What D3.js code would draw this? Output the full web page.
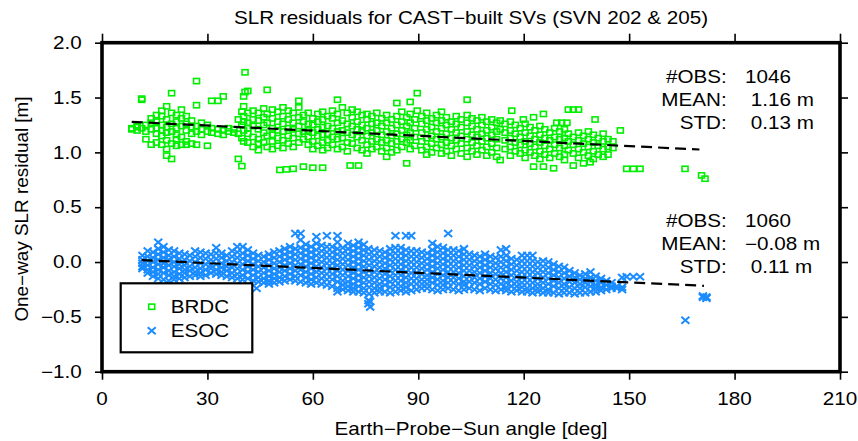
<!DOCTYPE html>
<html>
<head>
<meta charset="utf-8">
<script src="https://cdn.jsdelivr.net/npm/d3@7"></script>
<style>
  body { margin: 0; background: #fff; }
  svg text { font-family: "Liberation Sans", Arial, sans-serif; font-size: 17.5px; fill: #000; }
</style>
</head>
<body>
<div id="chart"></div>
<script>
// angle [deg] followed by residuals [m] read at that angle
var brdcCols = [
  [8.5, 1.22, 1.21], [10, 1.23, 1.20, 1.24], [11.3, 1.49, 1.48, 1.22], [12.5, 1.25, 1.12, 1.19],
  [14, 1.31, 1.07, 1.21, 1.27], [15.5, 1.34, 1.22, 1.09, 1.17, 1.28], [17, 1.38, 1.33, 1.25, 1.15, 1.07, 1.20],
  [18.4, 1.42, 1.30, 1.23, 1.11, 1.03, 0.97, 1.18], [19.8, 1.54, 1.36, 1.26, 1.19, 1.08, 0.94],
  [21.2, 1.34, 1.28, 1.16, 1.12, 1.06, 1.22], [22.6, 1.39, 1.31, 1.24, 1.14, 1.07], [24, 1.33, 1.26, 1.20, 1.10, 1.07],
  [25.5, 1.29, 1.23, 1.17, 1.08], [26.9, 1.65, 1.43, 1.24, 1.19, 1.07], [28.3, 1.27, 1.21, 1.16],
  [30, 1.25, 1.19, 1.06], [31.2, 1.47, 1.22, 1.18], [33, 1.47, 1.21, 1.17], [34.5, 1.51, 1.20, 1.16],
  [36, 1.22, 1.19], [37.5, 1.21, 1.18], [38.8, 1.30, 0.94, 1.17], [39.8, 1.37, 1.25, 0.875, 1.13],
  [40.3, 1.51, 1.42, 1.33, 1.28, 1.20, 1.10], [40.7, 1.73, 1.55], [41.5, 1.56, 1.36, 1.27, 1.17, 1.09, 1.22],
  [43, 1.38, 1.30, 1.24, 1.14, 1.05], [44.5, 1.36, 1.29, 1.21, 1.12, 1.08, 1.02], [46, 1.40, 1.32, 1.25, 1.18, 1.09],
  [47, 1.57, 1.35, 1.27, 1.15, 1.05], [48.5, 1.39, 1.31, 1.22, 1.16, 1.10, 1.03], [50, 1.37, 1.28, 1.20, 1.13, 1.06],
  [50.6, 0.84], [51.5, 1.41, 1.33, 1.26, 1.19, 1.11, 1.04], [52.5, 0.845], [53, 1.38, 1.30, 1.22, 1.15, 1.08],
  [54.4, 1.36, 1.27, 1.21, 1.13, 1.05, 0.85], [56, 1.47, 1.41, 1.32, 1.24, 1.17, 1.09], [57.3, 1.34, 1.28, 1.19, 1.12, 0.87],
  [58.7, 1.36, 1.26, 1.20, 1.14, 1.07], [60, 1.31, 1.25, 1.18, 1.10, 1.03, 0.86], [61.4, 1.35, 1.28, 1.21, 1.15, 1.06],
  [62.8, 1.37, 1.30, 1.23, 1.16, 1.09, 1.02, 0.86], [64.2, 1.33, 1.24, 1.17, 1.11, 1.04], [65.6, 1.38, 1.31, 1.22, 1.14, 1.07],
  [67, 1.48, 1.35, 1.27, 1.19, 1.12, 1.03], [68.4, 1.41, 1.29, 1.20, 1.13, 1.05], [69.8, 1.36, 1.26, 1.18, 1.09, 1.01],
  [70.6, 0.88], [71.2, 1.39, 1.32, 1.24, 1.16, 1.08], [72.6, 1.37, 1.28, 1.21, 1.14, 1.04], [73, 0.88],
  [74, 1.34, 1.25, 1.19, 1.11, 1.02], [75.4, 1.35, 1.30, 1.22, 1.15, 1.07, 0.99], [76.8, 1.33, 1.26, 1.18, 1.10, 1.03],
  [78.2, 1.36, 1.27, 1.20, 1.12, 1.05], [79.6, 1.31, 1.24, 1.16, 1.09, 1.01], [81, 1.34, 1.27, 1.19, 1.11, 1.04, 0.96],
  [82.4, 1.30, 1.22, 1.15, 1.08, 1.00], [83.9, 1.45, 1.33, 1.25, 1.17, 1.10, 1.02], [85.3, 1.37, 1.28, 1.20, 1.12, 1.05],
  [86.7, 1.32, 1.24, 1.16, 1.09, 0.90], [87.7, 1.46, 1.35, 1.27, 1.18, 1.11, 1.03], [89, 1.30, 1.22, 1.14, 1.06],
  [89.7, 1.54, 1.38], [91, 1.33, 1.26, 1.18, 1.10, 1.02], [92.4, 1.36, 1.29, 1.21, 1.13, 1.05, 0.98],
  [93.8, 1.31, 1.23, 1.15, 1.08, 1.00], [95.2, 1.34, 1.27, 1.19, 1.12, 1.04], [96.6, 1.37, 1.29, 1.22, 1.14, 1.07, 0.99],
  [98, 1.32, 1.25, 1.17, 1.09, 1.01], [99.4, 1.28, 1.21, 1.13, 1.06, 0.97], [100.8, 1.33, 1.26, 1.18, 1.11, 1.03],
  [102.2, 1.30, 1.23, 1.15, 1.08, 0.99], [103.9, 1.48, 1.34, 1.27, 1.19, 1.12, 1.04, 0.96], [105.3, 1.31, 1.24, 1.16, 1.09, 1.01],
  [106.7, 1.29, 1.21, 1.14, 1.06, 0.98], [108.1, 1.32, 1.25, 1.17, 1.10, 1.02], [109.5, 1.28, 1.20, 1.13, 1.05, 0.97],
  [110.9, 1.30, 1.23, 1.16, 1.08, 1.00], [112.3, 1.27, 1.19, 1.12, 1.04, 0.96], [113.3, 1.29, 1.21, 0.93],
  [114.7, 1.26, 1.18, 1.11, 1.03], [116.2, 1.28, 1.20, 1.13, 1.05, 0.97], [116.6, 1.38], [117.6, 1.25, 1.17, 1.09, 1.01],
  [119, 1.22, 1.14, 1.07, 0.99], [119.9, 1.30], [120.4, 1.26, 1.18, 1.10, 1.02, 0.95], [121.8, 1.23, 1.15, 1.08, 1.00],
  [122.8, 1.32, 0.87], [123.2, 1.20, 1.12, 1.05, 0.97], [124.6, 1.24, 1.16, 1.09, 1.01, 0.94], [125.6, 1.35, 0.87],
  [126, 1.21, 1.13, 1.06, 0.98], [127.4, 1.18, 1.11, 1.03, 0.95], [128.5, 0.855], [128.8, 1.22, 1.14, 1.07, 0.99],
  [129.4, 1.27], [130.2, 1.19, 1.12, 1.04, 0.96], [130.8, 1.27], [131.6, 1.21, 1.13, 1.06, 0.98, 0.93], [132.3, 1.27],
  [132.7, 1.39, 1.17, 1.10, 1.02], [134.1, 1.39, 1.14, 1.07, 0.99, 0.88], [135.6, 1.39, 1.18, 1.11, 1.03, 0.95],
  [137, 1.15, 1.08, 1.00, 0.90], [138.4, 1.19, 1.12, 1.05, 0.97], [138.9, 0.91], [139.8, 1.16, 1.09, 1.01, 0.94],
  [140.3, 1.30], [141.2, 1.13, 1.06, 0.98], [142.6, 1.17, 1.10, 1.03, 0.96], [144, 1.12, 1.05, 0.98], [145.4, 1.10, 1.04],
  [147.5, 1.20], [149.3, 0.85], [151.2, 0.85], [153.1, 0.85], [165.9, 0.85], [170.6, 0.79], [171.6, 0.76]
]

var esocCols = [
  [11.5, 0.06, 0.02, -0.01, -0.04, -0.06], [13, 0.10, 0.05, 0.01, -0.03, -0.07, -0.10],
  [14.5, 0.09, 0.04, 0.00, -0.05, -0.09, -0.13], [16, 0.18, 0.12, 0.07, 0.02, -0.02, -0.07, -0.11, -0.15],
  [17.5, 0.14, 0.09, 0.04, -0.01, -0.05, -0.10, -0.16], [19, 0.11, 0.06, 0.02, -0.03, -0.08, -0.12, -0.17],
  [20.5, 0.10, 0.05, 0.00, -0.04, -0.09, -0.13, -0.16], [22, 0.08, 0.03, -0.02, -0.06, -0.11, -0.15],
  [23.5, 0.07, 0.02, -0.03, -0.07, -0.10, -0.14], [25, 0.06, 0.01, -0.04, -0.08, -0.13],
  [26.5, 0.10, 0.05, 0.00, -0.05, -0.09, -0.12], [28, 0.09, 0.04, -0.01, -0.06, -0.10, -0.13],
  [29.5, 0.08, 0.03, -0.02, -0.07, -0.12], [31, 0.07, 0.02, -0.03, -0.06, -0.10],
  [32.5, 0.13, 0.08, 0.03, -0.02, -0.07, -0.11], [34, 0.08, 0.04, -0.01, -0.05, -0.09, -0.12],
  [35.5, 0.06, 0.01, -0.04, -0.08, -0.13], [37, 0.10, 0.05, 0.00, -0.05, -0.10, -0.14],
  [38.5, 0.14, 0.09, 0.04, -0.01, -0.06, -0.11, -0.15], [40, 0.14, 0.08, 0.03, -0.02, -0.07, -0.12, -0.16],
  [41.5, 0.11, 0.06, 0.01, -0.04, -0.09, -0.15], [43, 0.08, 0.03, -0.02, -0.07, -0.12, -0.17], [44, -0.24],
  [44.5, 0.06, 0.01, -0.04, -0.09, -0.14, -0.18], [46, 0.05, 0.00, -0.05, -0.10, -0.15, -0.19],
  [47.5, 0.07, 0.02, -0.03, -0.08, -0.13, -0.17, -0.20], [49, 0.09, 0.04, -0.01, -0.06, -0.11, -0.15, -0.19],
  [50.5, 0.10, 0.05, 0.00, -0.05, -0.09, -0.14, -0.18], [52, 0.12, 0.07, 0.02, -0.03, -0.08, -0.13, -0.17],
  [53.5, 0.14, 0.09, 0.04, -0.01, -0.06, -0.11, -0.16], [55, 0.26, 0.12, 0.07, 0.02, -0.03, -0.08, -0.13, -0.17],
  [56.5, 0.26, 0.20, 0.13, 0.08, 0.03, -0.02, -0.07, -0.12, -0.18], [58, 0.16, 0.11, 0.06, 0.01, -0.04, -0.09, -0.14, -0.19],
  [59.5, 0.14, 0.09, 0.04, -0.01, -0.06, -0.11, -0.16, -0.20], [61, 0.23, 0.17, 0.11, 0.06, 0.01, -0.04, -0.09, -0.14, -0.19],
  [62.5, 0.15, 0.10, 0.05, 0.00, -0.05, -0.10, -0.15, -0.20], [64, 0.24, 0.14, 0.09, 0.04, -0.01, -0.06, -0.11, -0.16, -0.21],
  [65.5, 0.14, 0.09, 0.04, -0.01, -0.06, -0.11, -0.16, -0.22],
  [67, 0.24, 0.18, 0.12, 0.07, 0.02, -0.03, -0.08, -0.13, -0.18, -0.24, -0.27],
  [68.5, 0.13, 0.08, 0.03, -0.02, -0.07, -0.12, -0.17, -0.21, -0.25],
  [70, 0.17, 0.12, 0.07, 0.02, -0.03, -0.08, -0.13, -0.18, -0.22, -0.26],
  [71.5, 0.15, 0.10, 0.05, 0.00, -0.05, -0.10, -0.15, -0.20, -0.24, -0.27],
  [73, 0.18, 0.13, 0.08, 0.03, -0.02, -0.07, -0.12, -0.17, -0.22, -0.27],
  [74.5, 0.16, 0.11, 0.06, 0.01, -0.04, -0.09, -0.14, -0.19, -0.24, -0.28],
  [75.8, 0.12, -0.35, -0.38], [76, 0.07, 0.02, -0.03, -0.08, -0.13, -0.18, -0.23, -0.29], [76.3, -0.41, -0.36],
  [77.5, 0.11, 0.06, 0.01, -0.04, -0.09, -0.14, -0.19, -0.24, -0.28],
  [79, 0.10, 0.05, 0.00, -0.05, -0.10, -0.15, -0.20, -0.24, -0.27],
  [80.5, 0.09, 0.04, -0.01, -0.06, -0.11, -0.16, -0.21, -0.27],
  [82, 0.12, 0.07, 0.02, -0.03, -0.08, -0.13, -0.18, -0.23, -0.28],
  [83.5, 0.24, 0.13, 0.08, 0.03, -0.02, -0.07, -0.12, -0.17, -0.22, -0.27],
  [85, 0.13, 0.08, 0.03, -0.02, -0.07, -0.12, -0.17, -0.22, -0.26],
  [86.5, 0.24, 0.11, 0.06, 0.01, -0.04, -0.09, -0.14, -0.19, -0.23, -0.27],
  [88, 0.24, 0.10, 0.05, 0.00, -0.05, -0.10, -0.15, -0.20, -0.26],
  [89.5, 0.10, 0.05, 0.00, -0.05, -0.10, -0.15, -0.20, -0.25],
  [91, 0.09, 0.04, -0.01, -0.06, -0.11, -0.16, -0.20, -0.24],
  [92.5, 0.08, 0.03, -0.02, -0.07, -0.12, -0.16, -0.20, -0.24],
  [94, 0.17, 0.11, 0.06, 0.01, -0.04, -0.09, -0.14, -0.19, -0.25],
  [95.5, 0.14, 0.09, 0.04, -0.01, -0.06, -0.11, -0.16, -0.21, -0.26],
  [97, 0.13, 0.08, 0.03, -0.02, -0.07, -0.12, -0.17, -0.21, -0.25],
  [98.5, 0.26, 0.11, 0.06, 0.01, -0.04, -0.09, -0.14, -0.19, -0.24],
  [100, 0.11, 0.06, 0.01, -0.04, -0.09, -0.14, -0.19, -0.25],
  [101.5, 0.10, 0.05, 0.00, -0.05, -0.10, -0.15, -0.20, -0.26],
  [103, 0.12, 0.07, 0.02, -0.03, -0.08, -0.13, -0.18, -0.21, -0.25],
  [104.5, 0.07, 0.02, -0.03, -0.08, -0.13, -0.18, -0.24], [106, 0.06, 0.01, -0.04, -0.09, -0.14, -0.19, -0.25],
  [107.5, 0.05, 0.00, -0.05, -0.10, -0.15, -0.20, -0.26], [109, 0.07, 0.02, -0.03, -0.08, -0.13, -0.18, -0.24],
  [110.5, 0.05, 0.00, -0.05, -0.10, -0.15, -0.20, -0.25], [112, 0.04, -0.01, -0.06, -0.11, -0.16, -0.21, -0.26],
  [113.5, 0.11, 0.05, 0.00, -0.05, -0.10, -0.15, -0.20, -0.25],
  [115, 0.12, 0.06, 0.01, -0.04, -0.09, -0.14, -0.19, -0.23, -0.26],
  [116.5, 0.03, -0.02, -0.07, -0.12, -0.17, -0.22, -0.27], [118, 0.02, -0.03, -0.08, -0.13, -0.18, -0.22, -0.26],
  [119.5, 0.06, 0.01, -0.04, -0.09, -0.14, -0.19, -0.23, -0.27], [121, 0.06, 0.01, -0.04, -0.09, -0.14, -0.19, -0.24, -0.27],
  [122.5, 0.06, 0.01, -0.04, -0.09, -0.14, -0.19, -0.24, -0.28], [124, 0.00, -0.05, -0.10, -0.15, -0.20, -0.24, -0.27],
  [125.5, 0.01, -0.04, -0.09, -0.14, -0.19, -0.24, -0.28], [127, 0.00, -0.05, -0.10, -0.15, -0.20, -0.25, -0.28],
  [128.5, -0.02, -0.07, -0.12, -0.17, -0.22, -0.28], [130, -0.04, -0.09, -0.14, -0.19, -0.24, -0.29],
  [131.5, -0.05, -0.10, -0.15, -0.20, -0.24, -0.28], [133, -0.08, -0.13, -0.18, -0.23, -0.28],
  [134.5, -0.10, -0.14, -0.19, -0.24, -0.29], [136, -0.12, -0.16, -0.20, -0.24, -0.28],
  [137.5, -0.11, -0.15, -0.19, -0.23, -0.28], [139, -0.09, -0.14, -0.18, -0.22, -0.27],
  [140.5, -0.13, -0.17, -0.21, -0.24, -0.27], [142, -0.15, -0.19, -0.23, -0.26], [143.5, -0.17, -0.21, -0.25],
  [145, -0.19, -0.22, -0.24], [146.5, -0.22, -0.24], [148, -0.23, -0.25, -0.14],
  [149.3, -0.135], [151.2, -0.135], [153.1, -0.135], [166, -0.53], [171, -0.32, -0.31], [172, -0.33, -0.32]
]

var brdcFit = [[8.45, 1.278], [170, 1.026]]
var esocFit = [[11.3, 0.017], [171.3, -0.217]]

var xTicks = [0, 30, 60, 90, 120, 150, 180, 210]
var yTicks = [-1.0, -0.5, 0.0, 0.5, 1.0, 1.5, 2.0]

var statLabels = ['#OBS:', 'MEAN:', 'STD:']
var brdcStats = ['1046', ' 1.16 m', ' 0.13 m']
var esocStats = ['1060', '\u22120.08 m', ' 0.11 m']

var series = ['BRDC', 'ESOC']

var title = 'SLR residuals for CAST\u2212built SVs (SVN 202 & 205)'
var xTitle = 'Earth\u2212Probe\u2212Sun angle [deg]'
var yTitle = 'One\u2212way SLR residual [m]'

var W = 858, H = 441, SX = 1.18
var green = '#00ee00', blue = '#1a8cff'

var svg = d3.select('#chart').append('svg').attr('width', W).attr('height', H)

var x = d3.scaleLinear().domain([0, 210]).range([102, 840])
var y = d3.scaleLinear().domain([-1, 2]).range([371.7, 42.7])

var minus = s => String(s).replace('-', '\u2212')

// text is slightly wider than tall in the reference
function txt(g, px, py, s, anchor){
  return g.append('text')
    .attr('transform', `translate(${px},${py}) scale(${SX},1)`)
    .attr('text-anchor', anchor || 'start')
    .style('white-space', 'pre')
    .text(s)
}

var flat = cols => cols.flatMap(([a, ...vs]) => vs.map(v => ({a, v})))
var brdc = flat(brdcCols), esoc = flat(esocCols)

var crossPath = 'M-4,-3.5L4,3.5M-4,3.5L4,-3.5'

// points
svg.append('g').selectAll('rect').data(brdc).join('rect')
  .attr('x', d => x(d.a) - 3).attr('y', d => y(d.v) - 2.6)
  .attr('width', 6).attr('height', 5.2)
  .attr('fill', 'none').attr('stroke', green).attr('stroke-width', 1.6)

svg.append('g').selectAll('path').data(esoc).join('path')
  .attr('transform', d => `translate(${x(d.a)},${y(d.v)})`)
  .attr('d', crossPath)
  .attr('fill', 'none').attr('stroke', blue).attr('stroke-width', 2)

// fit lines
var line = d3.line().x(d => x(d[0])).y(d => y(d[1]))
svg.selectAll('path.fit').data([brdcFit, esocFit]).join('path').attr('class', 'fit')
  .attr('d', line).attr('fill', 'none').attr('stroke', '#000')
  .attr('stroke-width', 2.2).attr('stroke-dasharray', '11 6')

// axes: ticks outside on all four sides
svg.append('g').attr('transform', `translate(${x(0)},0)`)
  .call(d3.axisLeft(y).tickValues(yTicks).tickSize(7).tickFormat(''))
svg.append('g').attr('transform', `translate(${x(210)},0)`)
  .call(d3.axisRight(y).tickValues(yTicks).tickSize(8).tickFormat(''))
svg.append('g').attr('transform', `translate(0,${y(-1)})`)
  .call(d3.axisBottom(x).tickValues(xTicks).tickSize(8).tickFormat(''))
svg.append('g').attr('transform', `translate(0,${y(2)})`)
  .call(d3.axisTop(x).tickValues(xTicks).tickSize(9).tickFormat(''))
svg.selectAll('.domain').remove()
svg.selectAll('.tick line').attr('stroke', '#000').attr('stroke-width', 1.6)

yTicks.forEach(t => txt(svg, 81.7, y(t) + 6.2, minus(t.toFixed(1)), 'end'))
xTicks.forEach(t => txt(svg, x(t), 405, String(t), 'middle'))

// frame
svg.append('rect')
  .attr('x', x(0)).attr('y', y(2)).attr('width', x(210) - x(0)).attr('height', y(-1) - y(2))
  .attr('fill', 'none').attr('stroke', '#000').attr('stroke-width', 3.6)

// titles
txt(svg, 471, 24, title, 'middle')
txt(svg, 471, 435, xTitle, 'middle')
svg.append('text')
  .attr('transform', 'translate(28,209) rotate(-90) scale(1.08,1)')
  .attr('text-anchor', 'middle').text(yTitle)

// stats
var statRows = [[brdcStats, [83.3, 106, 128.6]], [esocStats, [226.8, 249.8, 272.8]]]
statRows.forEach(([vals, ys]) => {
  statLabels.forEach((s, i) => {
    txt(svg, 726.7, ys[i], s, 'end')
    txt(svg, 745, ys[i], vals[i], 'start')
  })
})

// legend
var lg = svg.append('g')
lg.append('rect').attr('x', 120.7).attr('y', 283.3).attr('width', 131.6).attr('height', 69)
  .attr('fill', '#fff').attr('stroke', '#000').attr('stroke-width', 2.2)
lg.append('rect').attr('x', 148.7).attr('y', 304.1).attr('width', 6).attr('height', 5.2)
  .attr('fill', 'none').attr('stroke', green).attr('stroke-width', 1.6)
lg.append('path').attr('transform', 'translate(151.7,330.7)').attr('d', crossPath)
  .attr('fill', 'none').attr('stroke', blue).attr('stroke-width', 2)
series.forEach((s, i) => txt(lg, 170.7, 313.3 + i * 24, s, 'start'))
</script>
</body>
</html>
